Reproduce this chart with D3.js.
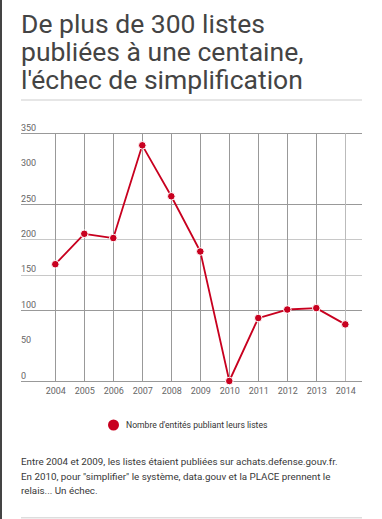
<!DOCTYPE html>
<html>
<head>
<meta charset="utf-8">
<script src="https://cdn.jsdelivr.net/npm/d3@7"></script>
<style>
  html, body { margin: 0; padding: 0; background: #fff; }
  body { width: 382px; height: 519px; overflow: hidden; font-family: Roboto, "Open Sans", sans-serif; }
  svg { display: block; }
</style>
</head>
<body>
<svg id="chart" width="382" height="519"></svg>
<script>
const years = [2004, 2005, 2006, 2007, 2008, 2009, 2010, 2011, 2012, 2013, 2014];
const values = [165, 208, 202, 333, 261, 183, 0, 89, 101, 103, 80];
const yTicks = [0, 50, 100, 150, 200, 250, 300, 350];
const gridValues = [0, 100, 150, 200, 250, 350];
const lightGrid = [150, 200];
const titleLines = ["De plus de 300 listes", "publiées à une centaine,", "l'échec de simplification"];
const seriesName = "Nombre d'entités publiant leurs listes";
const noteLines = [
  "Entre 2004 et 2009, les listes étaient publiées sur achats.defense.gouv.fr.",
  "En 2010, pour \"simplifier\" le système, data.gouv et la PLACE prennent le",
  "relais... Un échec."
];

const svg = d3.select("#chart");
const red = "#c8001f";

// left border
svg.append("rect").attr("x", 0).attr("y", 0).attr("width", 2).attr("height", 519).attr("fill", "#444");

// title
svg.append("g").selectAll("text").data(titleLines).join("text")
  .attr("x", 21).attr("y", (d, i) => 33 + i * 28)
  .attr("font-size", 26.5).attr("fill", "#444").text(d => d);

svg.append("rect").attr("x", 21).attr("y", 99).attr("width", 341).attr("height", 2).attr("fill", "#e6e6e6");

const x = d3.scaleLinear().domain([2004, 2014]).range([55.3, 345.3]);
const y = d3.scaleLinear().domain([0, 350]).range([381, 133.3]);

// horizontal grid
svg.append("g").selectAll("line").data(gridValues).join("line")
  .attr("x1", 21).attr("x2", 362)
  .attr("y1", d => Math.round(y(d)) + 0.5).attr("y2", d => Math.round(y(d)) + 0.5)
  .attr("stroke", d => lightGrid.includes(d) ? "#c8c8c8" : "#999").attr("stroke-width", 1);

// vertical grid
svg.append("g").selectAll("line").data(years).join("line")
  .attr("x1", d => Math.round(x(d)) + 0.5).attr("x2", d => Math.round(x(d)) + 0.5)
  .attr("y1", y(350)).attr("y2", y(0))
  .attr("stroke", (d, i) => i === years.length - 1 ? "#bbb" : "#999").attr("stroke-width", 1);

// y labels
svg.append("g").selectAll("text").data(yTicks).join("text")
  .attr("x", 21).attr("y", d => y(d) - 2.5)
  .attr("font-size", 9).attr("fill", "#666").text(d => d);

// x labels
const xAxis = d3.axisBottom(x).tickValues(years).tickFormat(d3.format("d")).tickSize(0).tickPadding(0);
const xg = svg.append("g").attr("transform", `translate(0,${y(0)})`).call(xAxis);
xg.select(".domain").remove();
xg.selectAll("text").attr("font-size", 9).attr("font-family", "Roboto").attr("fill", "#666").attr("dy", null).attr("y", 12.5);

// line
const line = d3.line().x((d, i) => x(years[i])).y(d => y(d));
svg.append("path").datum(values).attr("d", line)
  .attr("fill", "none").attr("stroke", red).attr("stroke-width", 1.8).attr("stroke-linejoin", "round");

svg.append("g").selectAll("circle").data(values).join("circle")
  .attr("cx", (d, i) => x(years[i])).attr("cy", d => y(d)).attr("r", 3.8)
  .attr("fill", red).attr("stroke", "#fff").attr("stroke-width", 1);

// legend
svg.append("circle").attr("cx", 113.5).attr("cy", 425).attr("r", 5.5).attr("fill", red);
svg.append("text").attr("x", 126).attr("y", 428).attr("font-size", 8.6).attr("fill", "#333").text(seriesName);

// note
svg.append("g").selectAll("text").data(noteLines).join("text")
  .attr("x", 21).attr("y", (d, i) => 465 + i * 14.5)
  .attr("font-size", 9.8).attr("fill", "#383838").text(d => d);

svg.append("rect").attr("x", 21).attr("y", 517).attr("width", 341).attr("height", 1.5).attr("fill", "#ddd");
</script>
</body>
</html>
